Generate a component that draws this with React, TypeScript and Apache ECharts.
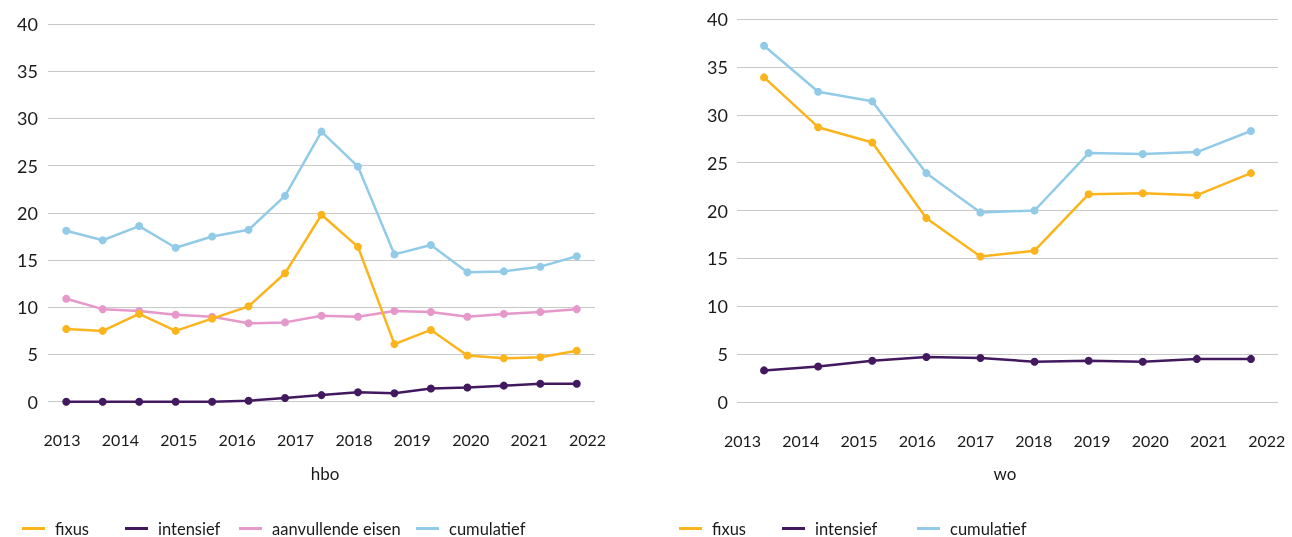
import React, { useEffect, useRef } from "react";
import * as echarts from "echarts";

// hbo panel: 15 measurement points spread over 2013–2022
const hboPoints = ["p1", "p2", "p3", "p4", "p5", "p6", "p7", "p8", "p9", "p10", "p11", "p12", "p13", "p14", "p15"];
const hboFixus = [7.7, 7.5, 9.3, 7.5, 8.8, 10.1, 13.6, 19.8, 16.4, 6.1, 7.6, 4.9, 4.6, 4.7, 5.4];
const hboIntensief = [0, 0, 0, 0, 0, 0.1, 0.4, 0.7, 1.0, 0.9, 1.4, 1.5, 1.7, 1.9, 1.9];
const hboAanvullend = [10.9, 9.8, 9.6, 9.2, 9.0, 8.3, 8.4, 9.1, 9.0, 9.6, 9.5, 9.0, 9.3, 9.5, 9.8];
const hboCumulatief = [18.1, 17.1, 18.6, 16.3, 17.5, 18.2, 21.8, 28.6, 24.9, 15.6, 16.6, 13.7, 13.8, 14.3, 15.4];

// wo panel: 10 points
const woPoints = ["q1", "q2", "q3", "q4", "q5", "q6", "q7", "q8", "q9", "q10"];
const woFixus = [33.9, 28.7, 27.1, 19.2, 15.2, 15.8, 21.7, 21.8, 21.6, 23.9];
const woIntensief = [3.3, 3.7, 4.3, 4.7, 4.6, 4.2, 4.3, 4.2, 4.5, 4.5];
const woCumulatief = [37.2, 32.4, 31.4, 23.9, 19.8, 20.0, 26.0, 25.9, 26.1, 28.3];

const yearLabels = ["2013", "2014", "2015", "2016", "2017", "2018", "2019", "2020", "2021", "2022"];

const C_FIXUS = "#FBB41C";
const C_INT = "#42195E";
const C_AAN = "#E598C9";
const C_CUM = "#92CBE8";
const TEXT = "#1a1a1a";
const FONT = "Lato";

export default function App() {
  const ref = useRef<HTMLDivElement>(null);
  useEffect(() => {
    if (!ref.current) return;
    const chart = echarts.init(ref.current, null, { renderer: "svg" });

    const line = (name: string, data: number[], color: string, idx: number) => ({
      name,
      type: "line",
      data,
      xAxisIndex: idx,
      yAxisIndex: idx,
      symbol: "circle",
      symbolSize: 8,
      lineStyle: { color, width: 2.5 },
      itemStyle: { color },
      emphasis: { disabled: true },
    });

    const valueY = (gridIndex: number, margin: number, show: boolean) => ({
      type: "value",
      gridIndex,
      min: 0,
      max: 40,
      interval: 5,
      show,
      axisLine: { show: false },
      axisTick: { show: false },
      axisLabel: { fontSize: 18, color: TEXT, fontFamily: FONT, margin },
      splitLine: { show, lineStyle: { color: "#c8c8c8", width: 1.2 } },
    });

    const legendItem = (name: string, left: number) => ({
      data: [name],
      left,
      top: 520,
      padding: 0,
      icon: "rect",
      itemWidth: 23,
      itemHeight: 3,
      selectedMode: false,
      textStyle: { fontSize: 16.5, color: TEXT, fontFamily: FONT, padding: [0, 0, 0, 5] },
    });

    chart.setOption({
      animation: false,
      grid: [
        { left: 48, width: 547, top: 24, height: 377.7 },
        { left: 62, width: 525.5, top: 24, height: 377.7 },
        { left: 737, width: 541, top: 19, height: 383 },
        { left: 742.5, width: 524.2, top: 19, height: 383 },
      ],
      xAxis: [
        { type: "category", gridIndex: 0, data: hboPoints, boundaryGap: true, show: false },
        {
          type: "category",
          gridIndex: 1,
          data: yearLabels,
          boundaryGap: false,
          axisLine: { show: false },
          axisTick: { show: false },
          splitLine: { show: false },
          axisLabel: { fontSize: 16, color: TEXT, fontFamily: FONT, margin: 30, interval: 0 },
        },
        { type: "category", gridIndex: 2, data: woPoints, boundaryGap: true, show: false },
        {
          type: "category",
          gridIndex: 3,
          data: yearLabels,
          boundaryGap: false,
          axisLine: { show: false },
          axisTick: { show: false },
          splitLine: { show: false },
          axisLabel: { fontSize: 16, color: TEXT, fontFamily: FONT, margin: 30, interval: 0 },
        },
      ],
      yAxis: [valueY(0, 10, true), valueY(1, 10, false), valueY(2, 9, true), valueY(3, 9, false)],
      legend: [
        legendItem("fixus", 22),
        legendItem("intensief", 125),
        legendItem("aanvullende eisen", 239),
        legendItem("cumulatief", 416),
        legendItem("fixus", 679),
        legendItem("intensief", 782),
        legendItem("cumulatief", 917),
      ],
      graphic: [
        {
          type: "text",
          x: 325,
          y: 473,
          style: { text: "hbo", fontSize: 17, fill: TEXT, fontFamily: FONT, textAlign: "center", textVerticalAlign: "middle" },
        },
        {
          type: "text",
          x: 1005,
          y: 473,
          style: { text: "wo", fontSize: 17, fill: TEXT, fontFamily: FONT, textAlign: "center", textVerticalAlign: "middle" },
        },
      ],
      series: [
        line("aanvullende eisen", hboAanvullend, C_AAN, 0),
        line("cumulatief", hboCumulatief, C_CUM, 0),
        line("intensief", hboIntensief, C_INT, 0),
        line("fixus", hboFixus, C_FIXUS, 0),
        line("cumulatief", woCumulatief, C_CUM, 2),
        line("intensief", woIntensief, C_INT, 2),
        line("fixus", woFixus, C_FIXUS, 2),
      ],
    });
    return () => chart.dispose();
  }, []);
  return <div ref={ref} style={{ position: "fixed", left: 0, top: 0, width: 1292, height: 537 }} />;
}
